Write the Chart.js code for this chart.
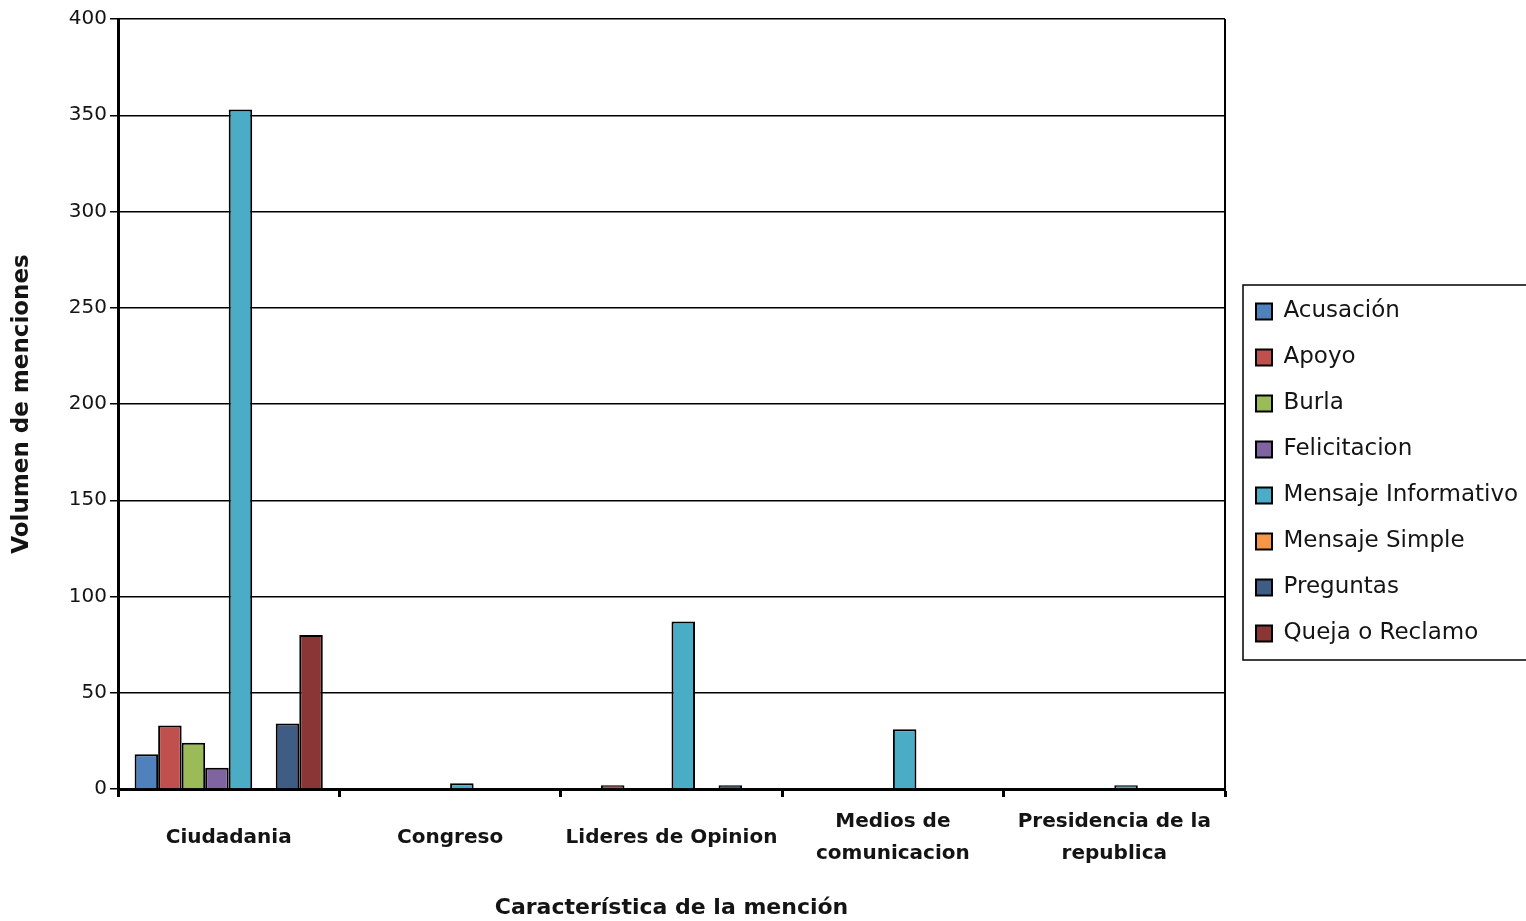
<!DOCTYPE html>
<html>
<head>
<meta charset="utf-8">
<script src="https://cdn.jsdelivr.net/npm/chart.js@4"></script>
<style>
  body { margin: 0; background: #fff; }
  #wrap { width: 1526px; height: 921px; }
</style>
</head>
<body>
<div id="wrap"><canvas id="chart" width="1526" height="921"></canvas></div>
<script>
const categories = [
  "Ciudadania",
  "Congreso",
  "Lideres de Opinion",
  ["Medios de", "comunicacion"],
  ["Presidencia de la", "republica"],
];
const seriesNames = [
  "Acusación", "Apoyo", "Burla", "Felicitacion",
  "Mensaje Informativo", "Mensaje Simple", "Preguntas", "Queja o Reclamo",
];
const acusacion = [18, 0, 0, 0, 0];
const apoyo = [33, 0, 2, 0, 0];
const burla = [24, 0, 0, 0, 0];
const felicitacion = [11, 0, 0, 0, 0];
const mensajeInformativo = [353, 3, 87, 31, 2];
const mensajeSimple = [0, 0, 0, 0, 0];
const preguntas = [34, 0, 2, 0, 0];
const quejaReclamo = [80, 0, 0, 0, 0];
const yTicks = [0, 50, 100, 150, 200, 250, 300, 350, 400];

const seriesValues = [acusacion, apoyo, burla, felicitacion, mensajeInformativo, mensajeSimple, preguntas, quejaReclamo];
const colors = ["#4F81BD", "#C0504D", "#9BBB59", "#8064A2", "#4BACC6", "#F79646", "#3E5C84", "#8A3536"];

const FONT = "'DejaVu Sans', sans-serif";

// frame on the right side of the plot + box around the legend
const framePlugin = {
  id: "frame",
  beforeUpdate(chart) {
    const legend = chart.legend;
    if (legend && !legend._patched) {
      const fit = legend.fit.bind(legend);
      legend.fit = function () {
        fit();
        this.width = 301;
      };
      legend._patched = true;
    }
  },
  afterLayout(chart) {
    const legend = chart.legend;
    legend.left += 8;
    legend.right += 8;
    legend.top = 277;
  },
  afterDatasetsDraw(chart) {
    const { ctx, chartArea } = chart;
    ctx.save();
    ctx.strokeStyle = "#000";
    ctx.lineWidth = 2;
    ctx.beginPath();
    ctx.moveTo(chartArea.right, chartArea.top);
    ctx.lineTo(chartArea.right, chartArea.bottom);
    ctx.stroke();
    ctx.restore();
  },
  afterDraw(chart) {
    const { ctx } = chart;
    const boxes = chart.legend.legendHitBoxes;
    if (!boxes || !boxes.length) return;
    const first = boxes[0];
    const last = boxes[boxes.length - 1];
    ctx.save();
    ctx.strokeStyle = "#000";
    ctx.lineWidth = 1.5;
    // border around the legend, running off the right edge like the original
    ctx.strokeRect(first.left - 13, first.top - 15, 320, last.top + last.height + 15 - (first.top - 15));
    ctx.restore();
  },
};

new Chart(document.getElementById("chart"), {
  type: "bar",
  data: {
    labels: categories,
    datasets: seriesNames.map((name, i) => ({
      label: name,
      data: seriesValues[i],
      backgroundColor: colors[i],
      borderColor: "#000",
      borderWidth: 2,
    })),
  },
  options: {
    responsive: false,
    animation: false,
    devicePixelRatio: 1,
    layout: { padding: { top: 19, left: 0, right: 0, bottom: 0 } },
    datasets: {
      bar: { categoryPercentage: 0.85, barPercentage: 1 },
    },
    plugins: {
      tooltip: { enabled: false },
      legend: {
        position: "right",
        align: "start",
        labels: {
          boxWidth: 16,
          boxHeight: 16,
          padding: 23,
          color: "#141414",
          font: { family: FONT, size: 23 },
        },
      },
    },
    scales: {
      x: {
        offset: true,
        grid: {
          offset: true,
          drawOnChartArea: false,
          drawTicks: true,
          tickLength: 8,
          tickWidth: 3,
          tickColor: "#000",
        },
        border: { color: "#000", width: 3 },
        ticks: {
          color: "#141414",
          padding: 25,
          maxRotation: 0,
          autoSkip: false,
          crossAlign: "center",
          font: { family: FONT, size: 20, weight: "bold", lineHeight: 1.6 },
        },
        title: {
          display: true,
          text: "Característica de la mención",
          color: "#141414",
          padding: { top: 0, bottom: 0 },
          font: { family: FONT, size: 22, weight: "bold" },
        },
        afterFit(scale) {
          scale.height = 132;
        },
      },
      y: {
        min: 0,
        max: 400,
        afterBuildTicks(scale) {
          scale.ticks = yTicks.map((v) => ({ value: v }));
        },
        grid: {
          color: "#000",
          lineWidth: 1.5,
          tickLength: 8,
          tickColor: "#000",
        },
        border: { color: "#000", width: 3 },
        ticks: {
          color: "#141414",
          padding: 3,
          font: { family: FONT, size: 20 },
        },
        title: {
          display: true,
          text: "Volumen de menciones",
          color: "#141414",
          padding: { top: 8, bottom: 0 },
          font: { family: FONT, size: 23, weight: "bold" },
        },
        afterFit(scale) {
          scale.width = 118;
        },
      },
    },
  },
  plugins: [framePlugin],
});
</script>
</body>
</html>
